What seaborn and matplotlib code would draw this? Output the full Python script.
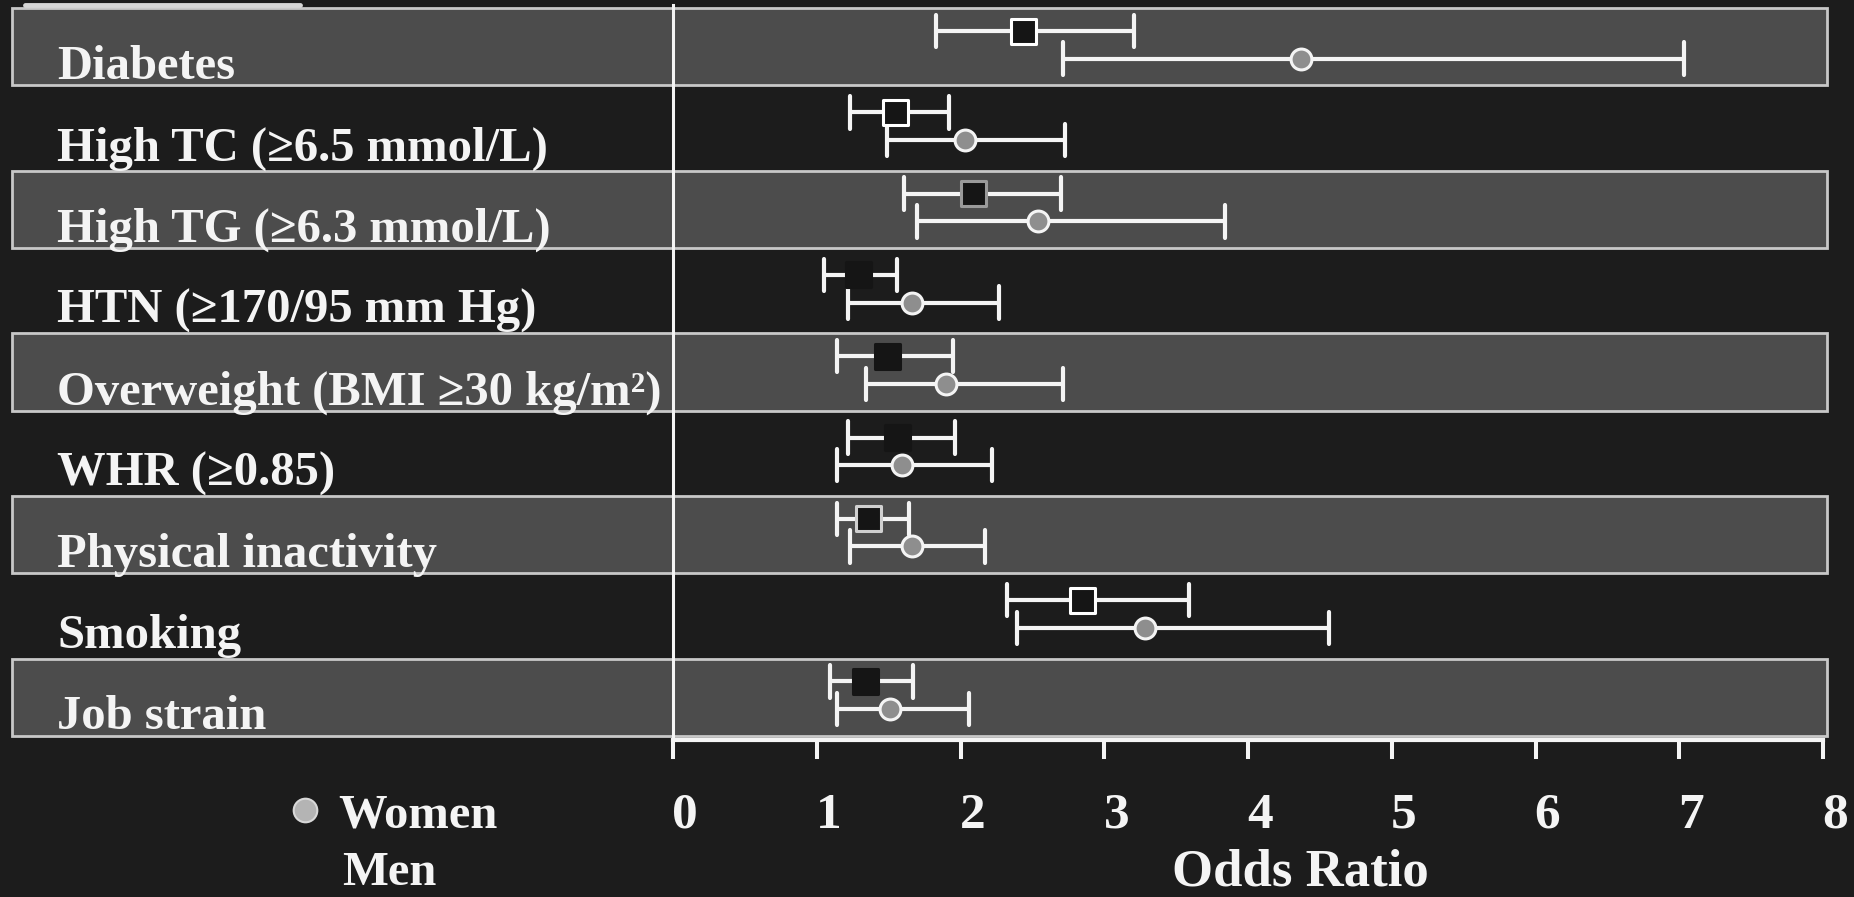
import numpy as np
import pandas as pd
import matplotlib
matplotlib.use("Agg")
import matplotlib.pyplot as plt
import matplotlib.transforms as mtransforms
from matplotlib.lines import Line2D
import seaborn as sns

# ---------------- data ----------------
categories = [
    "Diabetes",
    "High TC (≥6.5 mmol/L)",
    "High TG (≥6.3 mmol/L)",
    "HTN (≥170/95 mm Hg)",
    "Overweight (BMI ≥30 kg/m²)",
    "WHR (≥0.85)",
    "Physical inactivity",
    "Smoking",
    "Job strain",
]
men_or = [2.44, 1.55, 2.09, 1.29, 1.49, 1.56, 1.36, 2.85, 1.34]
men_lo = [1.83, 1.23, 1.61, 1.05, 1.14, 1.22, 1.14, 2.32, 1.09]
men_hi = [3.21, 1.92, 2.70, 1.56, 1.95, 1.96, 1.64, 3.59, 1.67]
women_or = [4.37, 2.03, 2.54, 1.66, 1.90, 1.59, 1.66, 3.28, 1.51]
women_lo = [2.71, 1.49, 1.70, 1.22, 1.34, 1.14, 1.23, 2.39, 1.14]
women_hi = [7.03, 2.73, 3.84, 2.27, 2.71, 2.22, 2.17, 4.56, 2.06]
sexes = ["Men", "Women"]
x_ticks = [0, 1, 2, 3, 4, 5, 6, 7, 8]
x_label = "Odds Ratio"

# ---------------- styles ----------------
banded = [True, False, True, False, True, False, True, False, True]
men_edges = ["white", "white", "#9a9a9a", "#151515", "#151515",
             "#151515", "#d0d0d0", "white", "#151515"]
BG = "#1c1c1c"
BAND = "#4c4c4c"
BAND_EDGE = "#c8c8c8"
WHITE = "#f4f4f4"

rows = []
for i, cat in enumerate(categories):
    for v in (men_lo[i], men_or[i], men_hi[i]):
        rows.append((cat, "Men", v))
    for v in (women_lo[i], women_or[i], women_hi[i]):
        rows.append((cat, "Women", v))
df = pd.DataFrame(rows, columns=["factor", "sex", "odds"])

sns.set_theme(style="white")
plt.rcParams["font.family"] = ["Liberation Serif", "DejaVu Serif"]
plt.rcParams["font.weight"] = "bold"

W, H = 1854, 897
fig = plt.figure(figsize=(W / 100, H / 100), dpi=100, facecolor=BG)
ax = fig.add_axes([673 / W, 1 - 740 / H, 1150 / W, 735 / H])
ax.set_facecolor("none")

sns.pointplot(
    data=df, x="odds", y="factor", hue="sex",
    order=categories, hue_order=sexes,
    estimator="median", errorbar=lambda v: (np.min(v), np.max(v)),
    palette={"Men": WHITE, "Women": WHITE},
    markers=["s", "o"], linestyles="none",
    dodge=0.34, capsize=0.4,
    err_kws={"linewidth": 3.0},
    orient="y", legend=False, ax=ax,
    markersize=15, markeredgewidth=2.2,
)

# restyle the markers
for line in list(ax.lines):
    m = line.get_marker()
    if m == "s":
        xy = line.get_xydata()
        line.set_visible(False)
        ax.scatter(xy[:, 0], xy[:, 1], marker="s", s=18 ** 2,
                   facecolor="#151515", edgecolors=men_edges,
                   linewidths=2.2, zorder=6)
    elif m == "o":
        line.set_markerfacecolor("#8e8e8e")
        line.set_markeredgecolor(WHITE)
        line.set_zorder(6)

# alternating bands
for i, b in enumerate(banded):
    if b:
        ax.axhspan(i - 0.45, i + 0.50, xmin=-0.575, xmax=1.0035,
                   facecolor=BAND, edgecolor=BAND_EDGE, linewidth=2.0,
                   zorder=0.5, clip_on=False)

ax.set_xlim(0, 8)
ax.set_ylim(8.55, -0.49)
ax.set_yticks([])
ax.set_ylabel("")
ax.set_xlabel("")
ax.set_xticks(x_ticks)
ax.set_xticklabels([str(t) for t in x_ticks])
ax.tick_params(axis="x", colors=WHITE, direction="out", length=14,
               width=2.9, pad=24, labelsize=37, bottom=True)
for lab in ax.get_xticklabels():
    lab.set_fontweight("bold")
    lab.set_color(WHITE)
    lab.set_transform(lab.get_transform() +
                      mtransforms.ScaledTranslation(0.12, 0, fig.dpi_scale_trans))

for side in ("top", "right"):
    ax.spines[side].set_visible(False)
ax.spines["left"].set_color(WHITE)
ax.spines["left"].set_linewidth(2.2)
ax.spines["bottom"].set_color(WHITE)
ax.spines["bottom"].set_linewidth(3.0)
ax.grid(False)

# row labels
trans = mtransforms.blended_transform_factory(fig.transFigure, ax.transData)
for i, cat in enumerate(categories):
    ax.text(57 / W, i + 0.42, cat, transform=trans, fontsize=35,
            fontweight="bold", color=WHITE, va="baseline", ha="left",
            zorder=7, clip_on=False)

# x label
fig.text(1300 / W, 1 - 885 / H, x_label, fontsize=38, fontweight="bold",
         color=WHITE, ha="center", va="baseline")

# legend
fig.add_artist(Line2D([305 / W], [1 - 810 / H], marker="o", markersize=17,
                      markerfacecolor="#b4b4b4", markeredgecolor="#d8d8d8",
                      markeredgewidth=1.5, linestyle="none",
                      transform=fig.transFigure))
fig.text(338 / W, 1 - 827 / H, "Women", fontsize=35, fontweight="bold",
         color=WHITE, ha="left", va="baseline")
fig.text(342 / W, 1 - 885 / H, "Men", fontsize=35, fontweight="bold",
         color=WHITE, ha="left", va="baseline")

# partial frame line at the top left
fig.add_artist(Line2D([25 / W, 300 / W], [1 - 5 / H, 1 - 5 / H],
                      color="#d6d6d6", linewidth=3.5,
                      transform=fig.transFigure))

fig.savefig("out.png", dpi=100, facecolor=BG)
